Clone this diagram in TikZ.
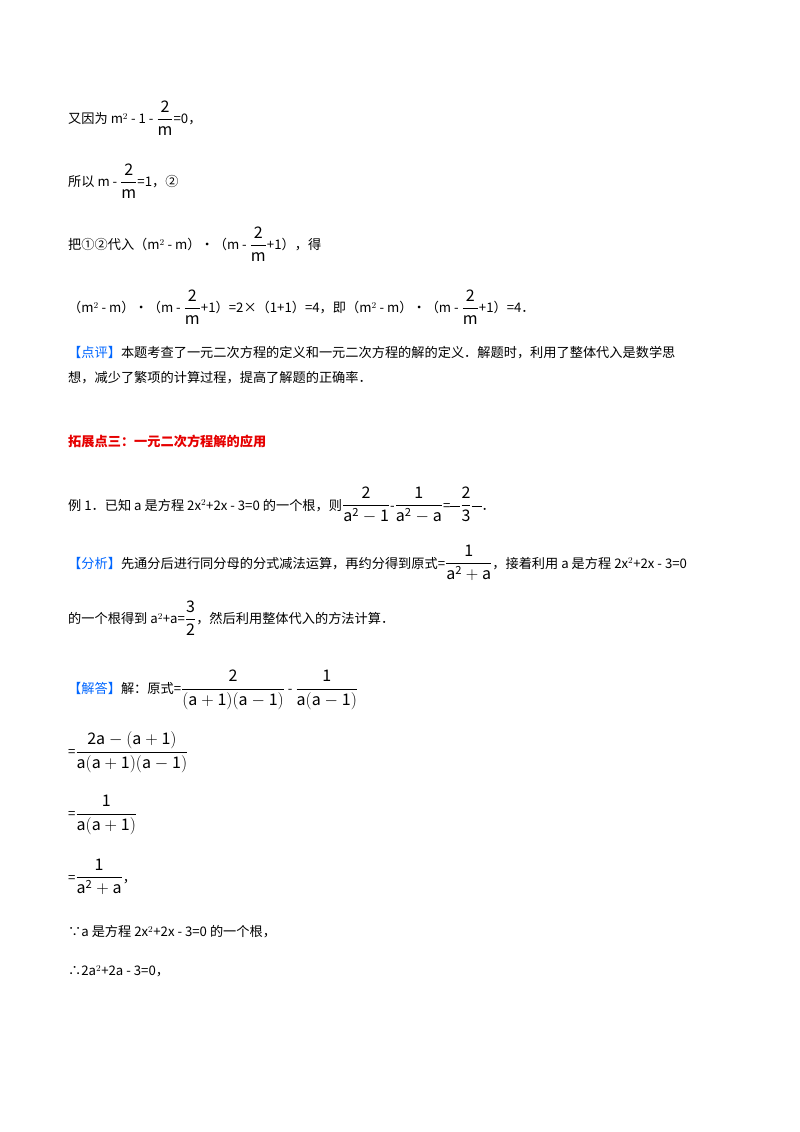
\documentclass[tikz,border=0pt]{standalone}
\usepackage{amsmath}
\usepackage{fontspec}
\setmainfont{Noto Sans CJK SC}
\definecolor{kblue}{RGB}{0,102,255}
\definecolor{kred}{RGB}{230,0,0}
\newcommand{\fr}[2]{{\fontsize{16}{18}\selectfont$\dfrac{\mathrm{#1}}{\mathrm{#2}}$}}
\begin{document}
\begin{tikzpicture}[x=1pt,y=-1pt,
  ln/.style={anchor=west,inner sep=0pt,font=\fontsize{13.2}{15}\selectfont}]
\useasboundingbox[fill=white] (0,0) rectangle (800,1132);
\node[ln] (l1) at (68,118) {又因为 m$^2$ - 1 - \fr{2}{m}=0，};
\node[ln] (l2) at (68,181) {所以 m - \fr{2}{m}=1，②};
\node[ln] (l3) at (68,244) {把①②代入（m$^2$ - m）•（m - \fr{2}{m}+1），得};
\node[ln] (l4) at (68,307) {（m$^2$ - m）•（m - \fr{2}{m}+1）=2×（1+1）=4，即（m$^2$ - m）•（m - \fr{2}{m}+1）=4．};
\node[ln] (l5) at (68,353) {\textcolor{kblue}{【点评】}本题考查了一元二次方程的定义和一元二次方程的解的定义．解题时，利用了整体代入是数学思};
\node[ln] (l6) at (68,378) {想，减少了繁项的计算过程，提高了解题的正确率．};
\node[ln,text=kred,font=\fontsize{13.2}{15}\selectfont\bfseries] (l7) at (68,441) {拓展点三：一元二次方程解的应用};
\node[ln] (l8) at (68,505) {例 1．已知 a 是方程 2x$^2$+2x - 3=0 的一个根，则\fr{2}{a^2-1}-\fr{1}{a^2-a}=\rule[3pt]{10pt}{0.6pt}\fr{2}{3}\rule[3pt]{10pt}{0.6pt}．};
\node[ln] (l9) at (68,563) {\textcolor{kblue}{【分析】}先通分后进行同分母的分式减法运算，再约分得到原式=\fr{1}{a^2+a}，接着利用 a 是方程 2x$^2$+2x - 3=0};
\node[ln] (l10) at (68,618) {的一个根得到 a$^2$+a=\fr{3}{2}，然后利用整体代入的方法计算．};
\node[ln] (l11) at (68,690) {\textcolor{kblue}{【解答】}解：原式=\fr{2}{(a+1)(a-1)} - \fr{1}{a(a-1)}};
\node[ln] (l12) at (68,752) {=\fr{2a-(a+1)}{a(a+1)(a-1)}};
\node[ln] (l13) at (68,815) {=\fr{1}{a(a+1)}};
\node[ln] (l14) at (68,877) {=\fr{1}{a^2+a}，};
\node[ln] (l15) at (68,932) {∵a 是方程 2x$^2$+2x - 3=0 的一个根，};
\node[ln] (l16) at (68,971) {∴2a$^2$+2a - 3=0，};
\end{tikzpicture}
\end{document}
